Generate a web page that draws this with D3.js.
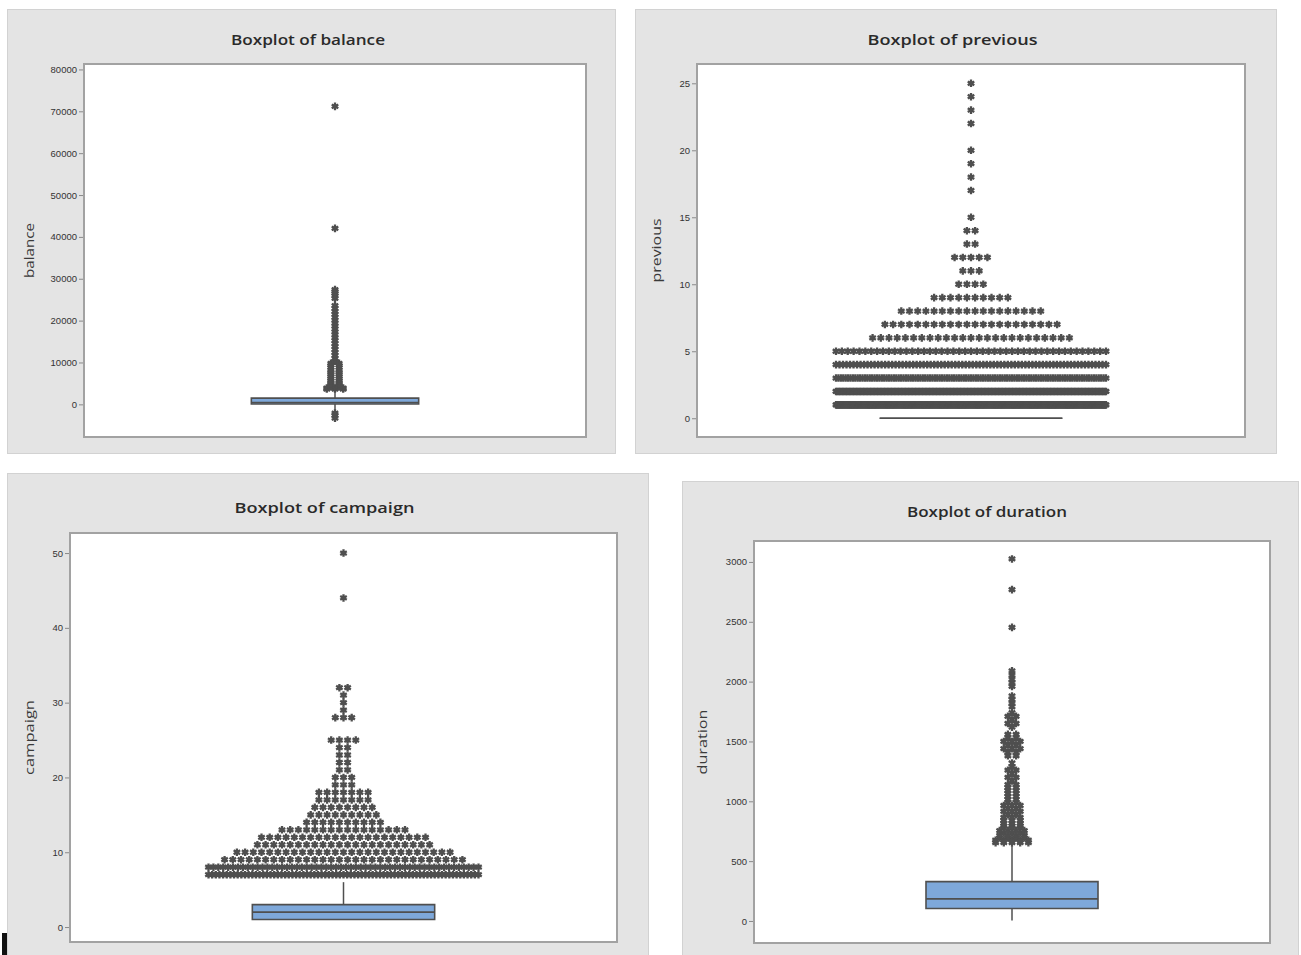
<!DOCTYPE html>
<html><head><meta charset="utf-8">
<script src="https://cdn.jsdelivr.net/npm/d3@7"></script>
<style>body{margin:0;background:#fff}</style>
</head><body><svg id="c" width="1301" height="955"></svg>
<script>
// ---------------- DATA ----------------
const variables = ["balance", "previous", "campaign", "duration"];
const titles = ["Boxplot of balance", "Boxplot of previous", "Boxplot of campaign", "Boxplot of duration"];
const q1Values = [69, 0, 1, 104];
const medianValues = [444, 0, 2, 185];
const q3Values = [1480, 0, 3, 329];
const whiskerLow = [-1950, 0, 1, 4];
const whiskerHigh = [3590, 0, 6, 640];

const ticksBalance = [0, 10000, 20000, 30000, 40000, 50000, 60000, 70000, 80000];
const ticksPrevious = [0, 5, 10, 15, 20, 25];
const ticksCampaign = [0, 10, 20, 30, 40, 50];
const ticksDuration = [0, 500, 1000, 1500, 2000, 2500, 3000];

// outliers as [value, number of stacked symbols]
const outliersBalance = [
  [-3313, 1], [-2604, 1], [-2082, 1],
  [3650, 3], [3900, 3], [4200, 2], [4500, 2], [4900, 2], [5300, 2], [5700, 2], [6200, 2],
  [6700, 2], [7200, 2], [7700, 2], [8200, 2], [8800, 2], [9300, 2], [9800, 2],
  [10300, 1], [11000, 1], [11700, 1], [12400, 1], [13100, 1], [13800, 1], [14500, 1],
  [15200, 1], [15900, 1], [16600, 1], [17300, 1], [18000, 1], [18700, 1], [19400, 1],
  [20100, 1], [20800, 1], [21500, 1], [22200, 1], [22900, 1], [23600, 1],
  [25300, 1], [25900, 1], [26500, 1], [26960, 1], [27400, 1],
  [42045, 1], [71188, 1]
];
const outliersPrevious = [
  [1, 286], [2, 193], [3, 113], [4, 78], [5, 47], [6, 25], [7, 22], [8, 18], [9, 10],
  [10, 4], [11, 3], [12, 5], [13, 2], [14, 2], [15, 1], [17, 1], [18, 1], [19, 1],
  [20, 1], [22, 1], [23, 1], [24, 1], [25, 1]
];
const outliersCampaign = [
  [7, 75], [8, 56], [9, 30], [10, 27], [11, 22], [12, 21], [13, 16], [14, 10], [15, 9],
  [16, 8], [17, 7], [18, 7], [19, 3], [20, 3], [21, 2], [22, 2], [23, 2], [24, 2],
  [25, 4], [28, 3], [29, 1], [30, 1], [31, 1], [32, 2], [44, 1], [50, 1]
];
const outliersDuration = [
  [655, 5], [675, 5], [695, 4], [715, 4], [735, 3], [755, 4], [775, 3], [795, 3], [815, 3],
  [840, 3], [865, 3], [890, 2], [915, 3], [940, 2], [965, 3], [990, 2], [1015, 2],
  [1040, 2], [1065, 2], [1090, 2], [1115, 2], [1140, 2], [1170, 1], [1200, 2], [1230, 1],
  [1260, 2], [1290, 1], [1320, 1], [1380, 2], [1410, 2], [1440, 3], [1470, 2], [1500, 3],
  [1530, 2], [1560, 2], [1620, 1], [1650, 2], [1680, 1], [1710, 2], [1740, 1],
  [1790, 1], [1820, 1], [1850, 1], [1880, 1], [1960, 1], [1990, 1], [2020, 1],
  [2055, 1], [2090, 1], [2453, 1], [2769, 1], [3025, 1]
];

const allTicks = [ticksBalance, ticksPrevious, ticksCampaign, ticksDuration];
const allOutliers = [outliersBalance, outliersPrevious, outliersCampaign, outliersDuration];

// ---------------- LAYOUT ----------------
const layout = [
  { outer: [7, 9, 615, 453], frame: [84, 64, 586, 437], yDomain: [-7800, 81300], titleY: 45, titleW: 154, labelX: 30, labelW: 55 },
  { outer: [635, 9, 1276, 453], frame: [697, 64, 1245, 437], yDomain: [-1.4, 26.44], titleY: 45, titleW: 170, labelX: 657, labelW: 64 },
  { outer: [7, 473, 648, 955], frame: [70, 533, 617, 942], yDomain: [-2.0, 52.68], titleY: 513, titleW: 180, labelX: 30, labelW: 75 },
  { outer: [682, 481, 1298, 955], frame: [754, 541, 1270, 943], yDomain: [-184, 3175], titleY: 517, titleW: 160, labelX: 703, labelW: 65 }
];
const SPACING = 8.2, CAP = 270;
const darkGray = "#4f4f4f";

const svg = d3.select("#c");
const symbolPath = d3.symbol().type(d3.symbolAsterisk).size(40)();
const dotPath = d3.symbol().type(d3.symbolCircle).size(16)();

variables.forEach((v, i) => {
  const L = layout[i];
  const [ox0, oy0, ox1, oy1] = L.outer;
  const [fx0, fy0, fx1, fy1] = L.frame;
  const g = svg.append("g");

  g.append("rect").attr("x", ox0 + 0.5).attr("y", oy0 + 0.5)
    .attr("width", ox1 - ox0).attr("height", oy1 - oy0)
    .attr("fill", "#e4e4e4").attr("stroke", "#d2d2d2").attr("stroke-width", 1);

  g.append("rect").attr("x", fx0).attr("y", fy0)
    .attr("width", fx1 - fx0).attr("height", fy1 - fy0)
    .attr("fill", "#ffffff").attr("stroke", "#a2a2a2").attr("stroke-width", 2);

  const y = d3.scaleLinear().domain(L.yDomain).range([fy1, fy0]);
  const x = d3.scaleBand().domain([v]).range([fx0, fx1]).paddingInner(0).paddingOuter(1);
  const bx0 = x(v), bw = x.bandwidth(), cx = bx0 + bw / 2;

  // title
  g.append("text").attr("x", (ox0 + ox1) / 2 - 3).attr("y", L.titleY)
    .attr("text-anchor", "middle").attr("font-family", "Open Sans, Liberation Sans, sans-serif")
    .attr("font-size", 14).attr("font-weight", 600).attr("fill", "#2a2a2a")
    .attr("textLength", L.titleW).attr("lengthAdjust", "spacingAndGlyphs")
    .text(titles[i]);

  // axis label
  g.append("text").attr("transform", `translate(${L.labelX + 4},${(fy0 + fy1) / 2}) rotate(-90)`)
    .attr("text-anchor", "middle").attr("font-family", "Open Sans, Liberation Sans, sans-serif")
    .attr("font-size", 13).attr("fill", "#3a3a3a")
    .attr("textLength", L.labelW).attr("lengthAdjust", "spacingAndGlyphs")
    .text(v);

  // y axis
  const axis = d3.axisLeft(y).tickValues(allTicks[i]).tickSize(4).tickPadding(2).tickFormat(d3.format("d"));
  const ag = g.append("g").attr("transform", `translate(${fx0 - 1},0)`).call(axis);
  ag.select(".domain").remove();
  ag.selectAll(".tick line").attr("stroke", "#8a8a8a");
  ag.selectAll(".tick text").attr("font-family", "Liberation Sans, Arial, sans-serif")
    .attr("font-size", 9.5).attr("fill", "#333");

  const clip = "clip" + i;
  g.append("clipPath").attr("id", clip).append("rect")
    .attr("x", fx0 + 1).attr("y", fy0 + 1).attr("width", fx1 - fx0 - 2).attr("height", fy1 - fy0 - 2);
  const pg = g.append("g").attr("clip-path", `url(#${clip})`);

  // whiskers
  pg.append("line").attr("x1", cx).attr("x2", cx).attr("y1", y(q3Values[i])).attr("y2", y(whiskerHigh[i]))
    .attr("stroke", darkGray).attr("stroke-width", 1.5);
  pg.append("line").attr("x1", cx).attr("x2", cx).attr("y1", y(q1Values[i])).attr("y2", y(whiskerLow[i]))
    .attr("stroke", darkGray).attr("stroke-width", 1.5);

  // box
  const yq1 = y(q1Values[i]), yq3 = y(q3Values[i]);
  pg.append("path")
    .attr("d", `M${bx0},${yq3}H${bx0 + bw}V${yq1}H${bx0}Z`)
    .attr("fill", "#7ea8da").attr("stroke", darkGray).attr("stroke-width", 1.6);
  pg.append("line").attr("x1", bx0).attr("x2", bx0 + bw)
    .attr("y1", y(medianValues[i])).attr("y2", y(medianValues[i]))
    .attr("stroke", darkGray).attr("stroke-width", 1.6);

  // outliers, stacked side by side
  const pts = [];
  allOutliers[i].forEach(([val, n]) => {
    const span = Math.min((n - 1) * SPACING, CAP);
    for (let k = 0; k < n; k++) {
      const px = n === 1 ? cx : cx - span / 2 + k * span / (n - 1);
      pts.push([px, y(val)]);
    }
  });
  const og = pg.selectAll("g.out").data(pts).join("g").attr("class", "out")
    .attr("transform", d => `translate(${d[0]},${d[1]})`);
  og.append("path").attr("d", symbolPath)
    .attr("fill", "none").attr("stroke", darkGray).attr("stroke-width", 2.3);
  og.append("path").attr("d", dotPath).attr("fill", darkGray);
});

// small black mark at bottom-left edge of the picture
svg.append("rect").attr("x", 2).attr("y", 933).attr("width", 5).attr("height", 22).attr("fill", "#111");
</script></body></html>
